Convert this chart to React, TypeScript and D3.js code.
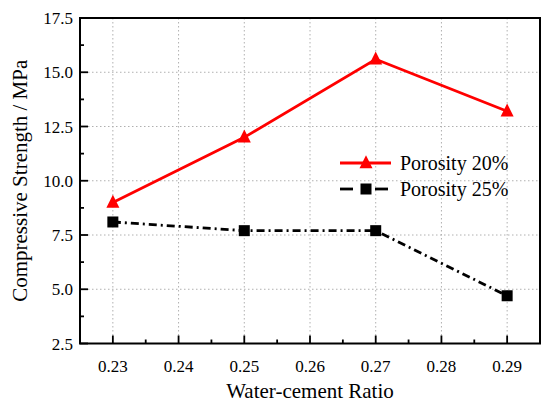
import React from "react";
import * as d3 from "d3";

const ratios = [0.23, 0.25, 0.27, 0.29];
const porosity20 = [9.0, 12.0, 15.6, 13.2];
const porosity25 = [8.1, 7.7, 7.7, 4.7];
const xTicks = [0.23, 0.24, 0.25, 0.26, 0.27, 0.28, 0.29];
const yTicks = [2.5, 5.0, 7.5, 10.0, 12.5, 15.0, 17.5];
const seriesNames = ["Porosity 20%", "Porosity 25%"];

const W = 550, H = 409;
const L = 80, R = 540, T = 18, B = 343.5;
const FONT = "'Liberation Serif', 'Times New Roman', serif";

export default function App() {
  const x = d3.scaleLinear().domain([0.225, 0.295]).range([L, R]);
  const y = d3.scaleLinear().domain([2.5, 17.5]).range([B, T]);
  const line = d3.line<[number, number]>().x(d => x(d[0])).y(d => y(d[1]));
  const d20 = line(ratios.map((r, i) => [r, porosity20[i]] as [number, number]))!;
  const d25 = line(ratios.map((r, i) => [r, porosity25[i]] as [number, number]))!;
  const xMinor = d3.range(0, 15).map(i => 0.225 + i * 0.005).filter(v => !xTicks.some(t => Math.abs(t - v) < 1e-6));
  const yMinor = d3.range(0, 13).map(i => 2.5 + i * 1.25).filter(v => !yTicks.some(t => Math.abs(t - v) < 1e-6));
  const tri = (cx: number, cy: number, s = 13) =>
    `M${cx},${cy - s * 0.6}L${cx + s / 2},${cy + s * 0.4}L${cx - s / 2},${cy + s * 0.4}Z`;
  const dash = "8,4,2,4";

  return (
    <svg width={W} height={H} style={{ position: "absolute", left: 0, top: 0, background: "#fff" }} fontFamily={FONT}>
      <rect x={0} y={0} width={W} height={H} fill="#fff" />
      {/* grid */}
      {xTicks.map(t => (
        <line key={"gx" + t} x1={x(t)} x2={x(t)} y1={T} y2={B} stroke="#b0b0b0" strokeWidth={1} strokeDasharray="1.5,2.5" />
      ))}
      {yTicks.slice(1, -1).map(t => (
        <line key={"gy" + t} x1={L} x2={R} y1={y(t)} y2={y(t)} stroke="#b0b0b0" strokeWidth={1} strokeDasharray="1.5,2.5" />
      ))}
      {/* series */}
      <path d={d25} fill="none" stroke="#000" strokeWidth={2.8} strokeDasharray={dash} />
      {ratios.map((r, i) => (
        <rect key={"s" + i} x={x(r) - 5.5} y={y(porosity25[i]) - 5.5} width={11} height={11} fill="#000" />
      ))}
      <path d={d20} fill="none" stroke="#ff0000" strokeWidth={2.8} />
      {ratios.map((r, i) => (
        <path key={"t" + i} d={tri(x(r), y(porosity20[i]))} fill="#ff0000" />
      ))}
      {/* frame */}
      <rect x={L} y={T} width={R - L} height={B - T} fill="none" stroke="#000" strokeWidth={2} />
      {/* ticks */}
      {xTicks.map(t => (
        <line key={"tx" + t} x1={x(t)} x2={x(t)} y1={B} y2={B - 8} stroke="#000" strokeWidth={1.8} />
      ))}
      {xMinor.map(t => (
        <line key={"mx" + t} x1={x(t)} x2={x(t)} y1={B} y2={B - 4} stroke="#000" strokeWidth={1.8} />
      ))}
      {yTicks.map(t => (
        <line key={"ty" + t} x1={L} x2={L + 8} y1={y(t)} y2={y(t)} stroke="#000" strokeWidth={1.8} />
      ))}
      {yMinor.map(t => (
        <line key={"my" + t} x1={L} x2={L + 4} y1={y(t)} y2={y(t)} stroke="#000" strokeWidth={1.8} />
      ))}
      {/* tick labels */}
      {xTicks.map(t => (
        <text key={"lx" + t} x={x(t)} y={372} textAnchor="middle" fontSize={17}>{d3.format(".2f")(t)}</text>
      ))}
      {yTicks.map(t => (
        <text key={"ly" + t} x={73} y={y(t) + 6} textAnchor="end" fontSize={17}>{d3.format(".1f")(t)}</text>
      ))}
      {/* axis titles */}
      <text x={(L + R) / 2} y={398} textAnchor="middle" fontSize={21}>Water-cement Ratio</text>
      <text transform={`translate(27,${(T + B) / 2}) rotate(-90)`} textAnchor="middle" fontSize={21}>Compressive Strength / MPa</text>
      {/* legend */}
      <line x1={340} x2={391} y1={163} y2={163} stroke="#ff0000" strokeWidth={2.8} />
      <path d={tri(366, 163)} fill="#ff0000" />
      <text x={400} y={170} fontSize={20}>{seriesNames[0]}</text>
      <line x1={340} x2={353} y1={189} y2={189} stroke="#000" strokeWidth={2.8} />
      <line x1={375} x2={388} y1={189} y2={189} stroke="#000" strokeWidth={2.8} />
      <rect x={360.5} y={183.5} width={11} height={11} fill="#000" />
      <text x={400} y={196} fontSize={20}>{seriesNames[1]}</text>
    </svg>
  );
}
